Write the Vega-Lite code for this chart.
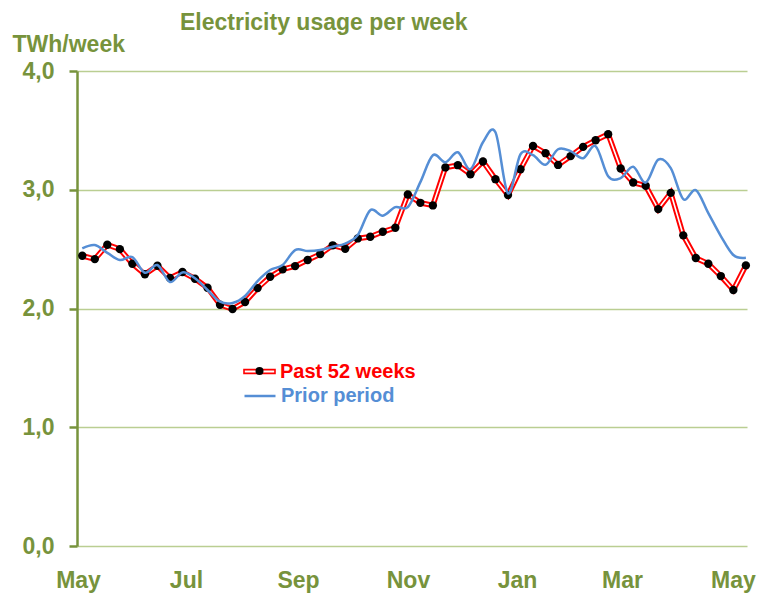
{
  "$schema": "https://vega.github.io/schema/vega-lite/v6.json",
  "width": 670,
  "height": 475,
  "autosize": "none",
  "padding": {"left": 77, "top": 71, "right": 10, "bottom": 49},
  "background": "white",
  "config": {
    "view": {"stroke": null},
    "font": "Liberation Sans"
  },
  "title": {
    "text": "Electricity usage per week",
    "anchor": "start",
    "frame": "group",
    "dx": 103,
    "offset": -20,
    "baseline": "alphabetic",
    "font": "Liberation Sans",
    "fontSize": 23,
    "fontWeight": "bold",
    "color": "#77933C"
  },
  "data": {
    "values": [
      {"w": 1, "past": 2.444, "prior": 2.506},
      {"w": 2, "past": 2.416, "prior": 2.534},
      {"w": 3, "past": 2.537, "prior": 2.469},
      {"w": 4, "past": 2.500, "prior": 2.408},
      {"w": 5, "past": 2.377, "prior": 2.433},
      {"w": 6, "past": 2.288, "prior": 2.301},
      {"w": 7, "past": 2.360, "prior": 2.366},
      {"w": 8, "past": 2.257, "prior": 2.223},
      {"w": 9, "past": 2.307, "prior": 2.304},
      {"w": 10, "past": 2.251, "prior": 2.254},
      {"w": 11, "past": 2.175, "prior": 2.156},
      {"w": 12, "past": 2.032, "prior": 2.057},
      {"w": 13, "past": 1.996, "prior": 2.046},
      {"w": 14, "past": 2.055, "prior": 2.105},
      {"w": 15, "past": 2.172, "prior": 2.231},
      {"w": 16, "past": 2.267, "prior": 2.324},
      {"w": 17, "past": 2.330, "prior": 2.366},
      {"w": 18, "past": 2.357, "prior": 2.492},
      {"w": 19, "past": 2.408, "prior": 2.484},
      {"w": 20, "past": 2.458, "prior": 2.492},
      {"w": 21, "past": 2.532, "prior": 2.520},
      {"w": 22, "past": 2.503, "prior": 2.547},
      {"w": 23, "past": 2.590, "prior": 2.618},
      {"w": 24, "past": 2.604, "prior": 2.828},
      {"w": 25, "past": 2.646, "prior": 2.782},
      {"w": 26, "past": 2.680, "prior": 2.854},
      {"w": 27, "past": 2.960, "prior": 2.854},
      {"w": 28, "past": 2.890, "prior": 3.064},
      {"w": 29, "past": 2.868, "prior": 3.291},
      {"w": 30, "past": 3.188, "prior": 3.232},
      {"w": 31, "past": 3.207, "prior": 3.316},
      {"w": 32, "past": 3.131, "prior": 3.173},
      {"w": 33, "past": 3.238, "prior": 3.400},
      {"w": 34, "past": 3.089, "prior": 3.484},
      {"w": 35, "past": 2.955, "prior": 2.971},
      {"w": 36, "past": 3.173, "prior": 3.299},
      {"w": 37, "past": 3.369, "prior": 3.291},
      {"w": 38, "past": 3.308, "prior": 3.211},
      {"w": 39, "past": 3.209, "prior": 3.341},
      {"w": 40, "past": 3.283, "prior": 3.325},
      {"w": 41, "past": 3.361, "prior": 3.266},
      {"w": 42, "past": 3.417, "prior": 3.367},
      {"w": 43, "past": 3.468, "prior": 3.114},
      {"w": 44, "past": 3.179, "prior": 3.098},
      {"w": 45, "past": 3.061, "prior": 3.193},
      {"w": 46, "past": 3.033, "prior": 3.060},
      {"w": 47, "past": 2.837, "prior": 3.253},
      {"w": 48, "past": 2.974, "prior": 3.182},
      {"w": 49, "past": 2.616, "prior": 2.921},
      {"w": 50, "past": 2.425, "prior": 2.997},
      {"w": 51, "past": 2.377, "prior": 2.803},
      {"w": 52, "past": 2.273, "prior": 2.610},
      {"w": 53, "past": 2.156, "prior": 2.450},
      {"w": 54, "past": 2.363, "prior": 2.427}
    ]
  },
  "encoding": {
    "x": {
      "field": "w",
      "type": "quantitative",
      "scale": {"domain": [0.577, 54.09], "nice": false, "zero": false},
      "axis": {
        "title": null,
        "grid": false,
        "domain": false,
        "ticks": false,
        "values": [0.66, 9.28, 18.23, 27.01, 35.72, 44.1, 52.97],
        "labelExpr": "datum.value < 5 ? 'May' : datum.value < 14 ? 'Jul' : datum.value < 22 ? 'Sep' : datum.value < 31 ? 'Nov' : datum.value < 40 ? 'Jan' : datum.value < 48 ? 'Mar' : 'May'",
        "labelFlush": false,
        "labelOverlap": false,
        "labelPadding": 23,
        "labelFont": "Liberation Sans",
        "labelFontSize": 23,
        "labelFontWeight": "bold",
        "labelColor": "#77933C"
      }
    }
  },
  "layer": [
    {
      "mark": {"type": "line", "strokeWidth": 5.5, "interpolate": "linear"},
      "encoding": {
        "y": {
          "field": "past",
          "type": "quantitative",
          "scale": {"domain": [0, 4], "nice": false},
          "axis": {
            "title": "TWh/week",
            "titleAngle": 0,
            "titleAlign": "left",
            "titleBaseline": "middle",
            "titleX": -65,
            "titleY": -27,
            "titleFont": "Liberation Sans",
            "titleFontSize": 23,
            "titleFontWeight": "bold",
            "titleColor": "#77933C",
            "values": [0, 1, 2, 3, 4],
            "labelExpr": "replace(format(datum.value, '.1f'), '.', ',')",
            "labelFont": "Liberation Sans",
            "labelFontSize": 23,
            "labelFontWeight": "bold",
            "labelColor": "#77933C",
            "labelPadding": 15,
            "tickSize": 8,
            "tickColor": "#77933C",
            "tickWidth": 2.5,
            "domainColor": "#77933C",
            "domainWidth": 2.5,
            "grid": true,
            "gridColor": "#BACE92",
            "gridWidth": 1.5
          }
        },
        "color": {
          "datum": "Past 52 weeks",
          "scale": {"domain": ["Past 52 weeks"], "range": ["#FF0000"]},
          "legend": {
            "orient": "none",
            "legendX": 166,
            "legendY": 284,
            "title": null,
            "symbolType": "M-1,-0.12H1V0.12H-1Z",
            "symbolSize": 961,
            "symbolStrokeWidth": 1.6,
            "labelFont": "Liberation Sans",
            "labelFontSize": 20,
            "labelFontWeight": "bold",
            "labelColor": "#FF0000",
            "labelOffset": 4
          }
        }
      }
    },
    {
      "mark": {"type": "line", "strokeWidth": 1.6, "color": "white", "interpolate": "linear"},
      "encoding": {
        "y": {"field": "past", "type": "quantitative"}
      }
    },
    {
      "mark": {"type": "point", "filled": true, "color": "black", "opacity": 1, "size": 70},
      "encoding": {
        "y": {"field": "past", "type": "quantitative"},
        "shape": {
          "datum": "dot",
          "scale": {"domain": ["dot"], "range": ["circle"]},
          "legend": {
            "orient": "none",
            "legendX": 172.5,
            "legendY": 290,
            "title": null,
            "symbolSize": 64,
            "symbolFillColor": "black",
            "symbolStrokeColor": "black",
            "symbolOpacity": 1,
            "labelExpr": "''",
            "labelFontSize": 20
          }
        }
      }
    },
    {
      "mark": {"type": "line", "strokeWidth": 2.5, "interpolate": "cardinal"},
      "encoding": {
        "y": {"field": "prior", "type": "quantitative"},
        "stroke": {
          "datum": "Prior period",
          "scale": {"domain": ["Prior period"], "range": ["#558ED5"]},
          "legend": {
            "orient": "none",
            "legendX": 166,
            "legendY": 308,
            "title": null,
            "symbolType": "stroke",
            "symbolSize": 961,
            "symbolStrokeWidth": 2.5,
            "labelFont": "Liberation Sans",
            "labelFontSize": 20,
            "labelFontWeight": "bold",
            "labelColor": "#558ED5",
            "labelOffset": 4
          }
        }
      }
    }
  ]
}
